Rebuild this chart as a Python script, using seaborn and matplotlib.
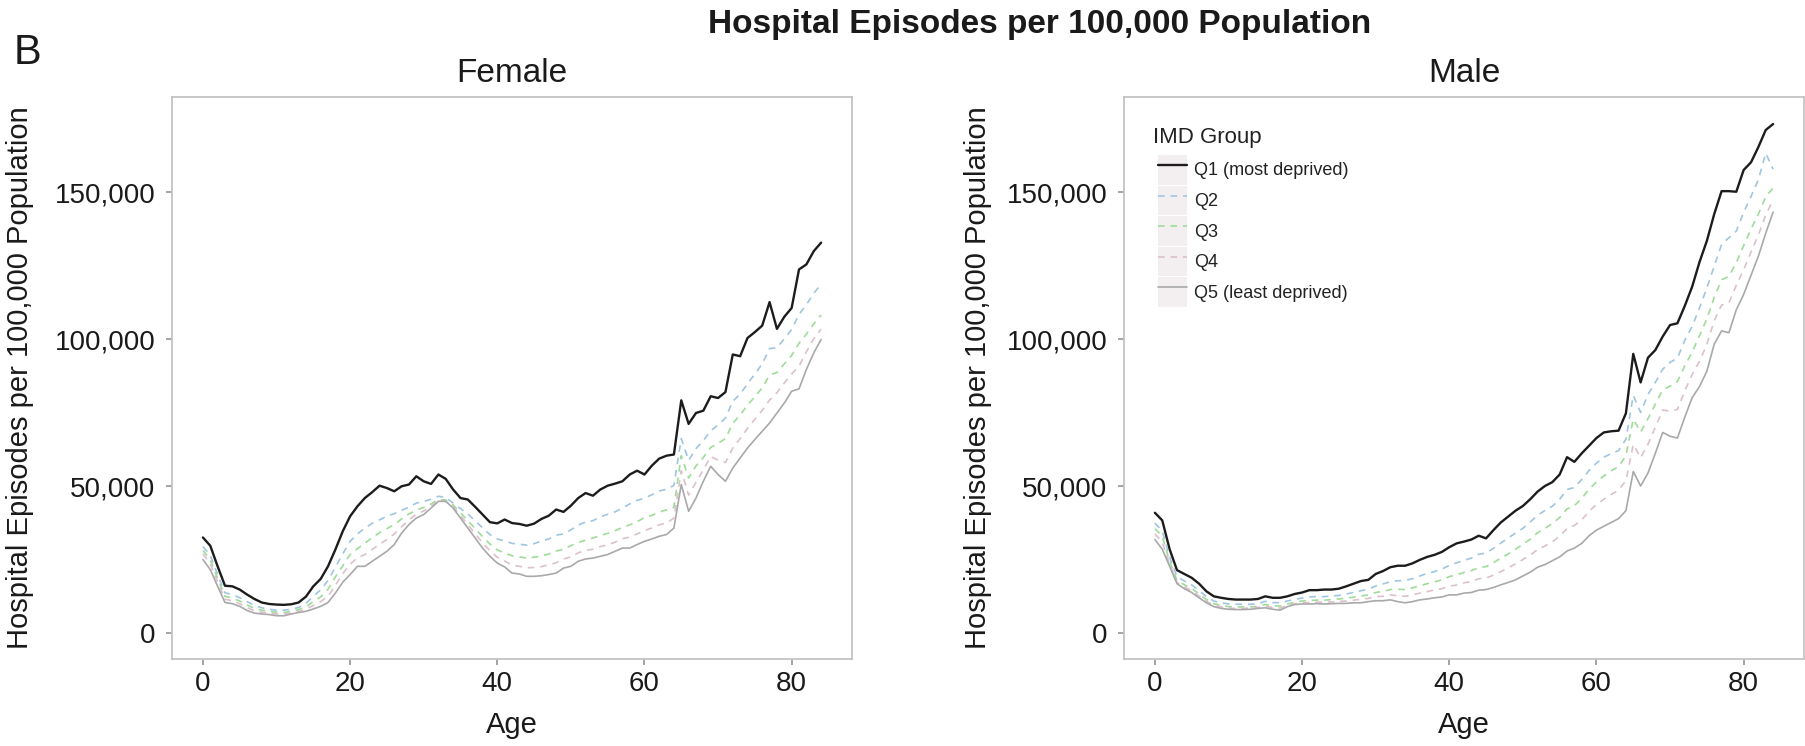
import matplotlib
matplotlib.use("Agg")
import matplotlib.pyplot as plt
import numpy as np
import pandas as pd
import seaborn as sns
from matplotlib.lines import Line2D
from matplotlib.patches import Rectangle
from matplotlib.legend_handler import HandlerTuple
from matplotlib.ticker import FuncFormatter

# ---------------------------------------------------------------- data
ages = list(range(85))
groups = ["Q1 (most deprived)", "Q2", "Q3", "Q4", "Q5 (least deprived)"]

female_q1 = [32600, 29800, 22800, 16200, 16000, 14900, 13200, 11700, 10500, 10000,
             9800, 9700, 9900, 10500, 12500, 16000, 18500, 22800, 28500, 34700,
             39800, 43200, 46000, 48000, 50200, 49400, 48300, 50000, 50600, 53400,
             51700, 50800, 54000, 52500, 48900, 46000, 45500, 43000, 40400, 37800,
             37400, 38700, 37500, 37200, 36600, 37300, 38900, 40000, 42100, 41300,
             43400, 46000, 47700, 46800, 48900, 50200, 50900, 51700, 54000, 55300,
             54000, 57000, 59400, 60400, 60800, 79200, 71200, 74900, 75700, 80600,
             80000, 82000, 94800, 94200, 100400, 102400, 104600, 112600, 103500, 107600,
             110600, 123700, 125400, 129900, 132800]
female_q2 = [29500, 26500, 20000, 13800, 13200, 12100, 10800, 9500, 8700, 8200,
             7900, 7900, 8200, 8800, 10200, 12600, 14800, 18000, 22500, 27000,
             31300, 33800, 35800, 37400, 38600, 39800, 40700, 41800, 42900, 44300,
             44800, 45600, 46600, 46200, 44300, 42400, 40600, 38200, 35900, 33600,
             32100, 31400, 30600, 30300, 30000, 30500, 31400, 32100, 33400, 33800,
             35200, 36800, 37900, 38300, 39600, 40500, 41300, 42600, 44000, 45200,
             46000, 47100, 48400, 49000, 50300, 66200, 58800, 62800, 65500, 68900,
             70800, 73200, 78900, 81300, 84800, 88200, 91600, 96800, 97100, 100100,
             103300, 108400, 111700, 115600, 118600]
female_q3 = [28200, 25000, 18700, 12600, 12000, 11000, 9700, 8500, 7900, 7500,
             7200, 7100, 7500, 8100, 9000, 10800, 12400, 15000, 19200, 23000,
             26800, 28800, 30600, 32600, 34200, 35600, 37000, 38900, 40600, 41900,
             42800, 44000, 45500, 45300, 43600, 41000, 38300, 35600, 32900, 30400,
             28400, 27300, 26400, 26000, 25600, 25900, 26300, 27000, 28000, 28600,
             29800, 30900, 31700, 32400, 33300, 34000, 34900, 36000, 36900, 37900,
             39400, 40100, 41200, 42000, 42800, 60400, 52800, 56900, 59800, 63200,
             64600, 66200, 71400, 74200, 77600, 80400, 83500, 87800, 88700, 91600,
             94500, 98600, 101700, 105200, 108200]
female_q4 = [27000, 23600, 17500, 11600, 11100, 10100, 8800, 7700, 7200, 6900,
             6600, 6600, 6900, 7500, 8200, 9500, 10800, 12600, 16300, 20300,
             23500, 25700, 26800, 28500, 30300, 31900, 33800, 36200, 38600, 40500,
             41600, 43200, 45000, 44900, 43000, 40000, 37000, 33800, 30800, 28100,
             25900, 24600, 23200, 22800, 22300, 22400, 22700, 23300, 24000, 25300,
             26000, 27400, 28200, 28600, 29500, 30100, 31000, 32200, 32700, 33800,
             35000, 35800, 36900, 37500, 39200, 55300, 47000, 51300, 55600, 60100,
             58900, 58100, 63000, 66200, 69700, 72800, 75800, 79300, 81800, 85100,
             88200, 90800, 95700, 100100, 103400]
female_q5 = [25100, 21700, 16000, 10500, 10100, 9200, 7800, 6900, 6600, 6400,
             6000, 6000, 6600, 7100, 7500, 8300, 9200, 10500, 13700, 17400,
             20000, 22800, 22800, 24500, 26200, 27900, 30200, 34100, 37000, 39200,
             40400, 42600, 44900, 44900, 42600, 39200, 35800, 32400, 29000, 26200,
             23900, 22600, 20500, 20200, 19400, 19400, 19600, 20000, 20500, 22200,
             22800, 24500, 25300, 25600, 26200, 26800, 27900, 29000, 29000, 30200,
             31300, 32100, 33000, 33600, 35800, 50600, 41500, 46000, 51700, 56800,
             54000, 51700, 56200, 59600, 63000, 65900, 68700, 71500, 74900, 78300,
             82300, 83100, 89700, 95300, 99900]

male_q1 = [41000, 38400, 28600, 21500, 20200, 18900, 16900, 14300, 12600, 12100,
           11700, 11500, 11500, 11500, 11700, 12600, 12100, 12100, 12600, 13400,
           13900, 14700, 14700, 14900, 14900, 15200, 16000, 16900, 17800, 18200,
           20200, 21200, 22500, 23000, 23000, 23800, 25000, 26000, 26700, 27700,
           29300, 30600, 31200, 31900, 33200, 32300, 35100, 37700, 39700, 41700,
           43300, 45600, 48200, 50100, 51400, 54000, 59900, 58300, 61200, 63800,
           66400, 68300, 68700, 68900, 74800, 95000, 85300, 93700, 96300, 100900,
           104800, 105400, 111300, 117800, 126200, 133400, 142500, 150300, 150300, 150100,
           157500, 160100, 165300, 171100, 173100]
male_q2 = [37500, 34800, 26000, 19300, 17800, 16500, 14600, 12500, 11000, 10400,
           10000, 9900, 9900, 9900, 10100, 10900, 10500, 10400, 11000, 11600,
           12000, 12400, 12500, 12500, 12700, 12900, 13400, 13900, 14500, 15000,
           16100, 16800, 17600, 17900, 18000, 18600, 19500, 20400, 21000, 21900,
           23100, 24000, 24800, 25600, 26900, 27300, 28900, 30700, 32400, 34100,
           35700, 37900, 40100, 41800, 43200, 45600, 48900, 49600, 52300, 55400,
           57900, 59900, 61100, 62100, 66000, 80900, 75100, 81200, 85300, 89800,
           92100, 93600, 99600, 104300, 110600, 117400, 124800, 132200, 134500, 136700,
           143100, 148500, 154200, 163200, 157800]
male_q3 = [35600, 33000, 24500, 18000, 16500, 15300, 13400, 11500, 10100, 9500,
           9100, 9000, 9000, 9000, 9200, 9800, 9400, 9300, 10000, 10600,
           11000, 11200, 11300, 11300, 11500, 11700, 12000, 12300, 12700, 13100,
           13900, 14300, 14900, 15000, 14900, 15500, 16200, 16900, 17500, 18200,
           19300, 19900, 20700, 21300, 22400, 22700, 24000, 25600, 27000, 28600,
           30300, 32000, 34200, 35700, 37300, 39400, 42300, 43400, 45900, 49000,
           51500, 53500, 55300, 56600, 60400, 72800, 68400, 73000, 77900, 82800,
           84000, 85600, 90900, 95600, 101200, 106900, 114200, 120200, 121300, 126000,
           131800, 137400, 142500, 148400, 151400]
male_q4 = [33800, 31000, 23600, 17300, 15800, 14500, 12700, 10900, 9600, 9000,
           8600, 8500, 8500, 8600, 8800, 9200, 8800, 8600, 9500, 10100,
           10400, 10500, 10600, 10600, 10700, 10900, 11000, 11300, 11600, 11900,
           12500, 12600, 13100, 12800, 12600, 13100, 13700, 14200, 14800, 15200,
           16100, 16400, 17200, 17600, 18600, 18800, 19800, 21000, 22300, 23600,
           25100, 26600, 28500, 29700, 31100, 33100, 35600, 36700, 38600, 41500,
           43800, 45600, 47200, 48700, 51900, 64200, 59700, 64300, 70100, 75900,
           75600, 76100, 82400, 88000, 92500, 98200, 106300, 111600, 112300, 118300,
           123600, 129600, 135400, 142200, 147300]
male_q5 = [31900, 28600, 22800, 16900, 15200, 13900, 12100, 10400, 9100, 8500,
           8200, 8100, 8100, 8200, 8500, 8700, 8200, 7900, 9100, 9800,
           10000, 10000, 10100, 10000, 10100, 10200, 10200, 10400, 10400, 10800,
           11100, 11100, 11400, 10800, 10400, 10800, 11400, 11700, 12100, 12400,
           13100, 13100, 13700, 13900, 14700, 14900, 15600, 16500, 17300, 18200,
           19500, 20800, 22500, 23400, 24700, 26000, 28000, 29000, 30600, 33200,
           35100, 36400, 37700, 39000, 41700, 55000, 50100, 54500, 61200, 68300,
           67000, 66400, 73500, 80100, 83900, 89100, 98300, 102800, 102200, 110000,
           115200, 121700, 128200, 136000, 143200]

x_ticks = [0, 20, 40, 60, 80]
y_ticks = [0, 50000, 100000, 150000]

# ---------------------------------------------------------------- long table
series = {
    "Female": [female_q1, female_q2, female_q3, female_q4, female_q5],
    "Male": [male_q1, male_q2, male_q3, male_q4, male_q5],
}
rows = []
for sex, lists in series.items():
    for grp, vals in zip(groups, lists):
        for a, v in zip(ages, vals):
            rows.append((sex, grp, a, v))
df = pd.DataFrame(rows, columns=["Sex", "IMD", "Age", "Rate"])

# ---------------------------------------------------------------- style
sns.set_theme(style="white")
plt.rcParams["font.family"] = ["Liberation Sans", "DejaVu Sans"]

palette = {groups[0]: "#1c1c1c", groups[1]: "#9fc6e0", groups[2]: "#9edc98",
           groups[3]: "#dcc0cc", groups[4]: "#a9a9a9"}
dashes = {groups[0]: "", groups[1]: (4, 3.5), groups[2]: (4, 3.5),
          groups[3]: (4, 3.5), groups[4]: ""}
sizes = {groups[0]: 1.7, groups[1]: 1.2, groups[2]: 1.2, groups[3]: 1.2, groups[4]: 1.2}

W, H = 1806, 746
fig = plt.figure(figsize=(W / 100, H / 100), dpi=100)


def add_panel(left, top, right, bottom):
    return fig.add_axes([left / W, 1 - bottom / H, (right - left) / W, (bottom - top) / H])


ax_f = add_panel(172, 97, 852, 659)
ax_m = add_panel(1124, 97, 1804, 659)

comma = FuncFormatter(lambda v, _: f"{int(v):,}")

for ax, sex, ylab_x in [(ax_f, "Female", -0.203), (ax_m, "Male", -0.194)]:
    sns.lineplot(data=df[df["Sex"] == sex], x="Age", y="Rate",
                 hue="IMD", style="IMD", size="IMD",
                 hue_order=groups, style_order=groups, size_order=groups,
                 palette=palette, dashes=dashes, sizes=sizes,
                 estimator=None, legend=False, ax=ax)
    ax.set_xlim(-4.2, 88.2)
    ax.set_ylim(-8700, 182300)
    ax.set_xticks(x_ticks)
    ax.set_yticks(y_ticks)
    ax.yaxis.set_major_formatter(comma)
    for sp in ax.spines.values():
        sp.set_color("#c4c4c4")
        sp.set_linewidth(1.3)
    ax.tick_params(axis="both", which="major", bottom=True, left=True,
                   length=4, width=1.1, color="#8a8a8a",
                   labelsize=20, labelcolor="#1a1a1a")
    ax.tick_params(axis="x", pad=4.5)
    ax.tick_params(axis="y", pad=8)
    ax.set_xlabel("Age", fontsize=21, color="#1a1a1a")
    ax.set_ylabel("Hospital Episodes per 100,000 Population", fontsize=21, color="#1a1a1a")
    ax.xaxis.set_label_coords(0.5, -0.092)
    ax.yaxis.set_label_coords(ylab_x, 0.5)
    ax.set_facecolor("white")

# panel titles and figure heading
fig.text(512 / W, 1 - 82 / H, "Female", ha="center", va="baseline", fontsize=24, color="#1a1a1a")
fig.text(1464 / W, 1 - 82 / H, "Male", ha="center", va="baseline", fontsize=24, color="#1a1a1a")
fig.text(1040 / W, 1 - 33 / H, "Hospital Episodes per 100,000 Population",
         ha="center", va="baseline", fontsize=24, fontweight="bold", color="#1a1a1a")
fig.text(14 / W, 1 - 64 / H, "B", ha="left", va="baseline", fontsize=30, color="#1a1a1a")

# legend inside the male panel
ax_m.text(0.0426, 0.918, "IMD Group", transform=ax_m.transAxes,
          ha="left", va="baseline", fontsize=16, color="#222222")
handles = []
for g in groups:
    key_bg = Rectangle((0, 0), 1, 1, facecolor="#f3eff1", edgecolor="none")
    ln = Line2D([], [], color=palette[g], lw=sizes[g],
                dashes=dashes[g] if dashes[g] else (None, None),
                linestyle="-" if dashes[g] == "" else "--")
    handles.append((key_bg, ln))
ax_m.legend(handles, groups, handler_map={tuple: HandlerTuple(ndivide=1, pad=0)},
            loc="upper left", bbox_to_anchor=(0.05, 0.8968), frameon=False,
            borderpad=0, borderaxespad=0, fontsize=13, handlelength=1.6,
            handleheight=2.15, labelspacing=0.05, handletextpad=0.4,
            labelcolor="#222222")

fig.savefig("out.png", dpi=100, facecolor="white")
